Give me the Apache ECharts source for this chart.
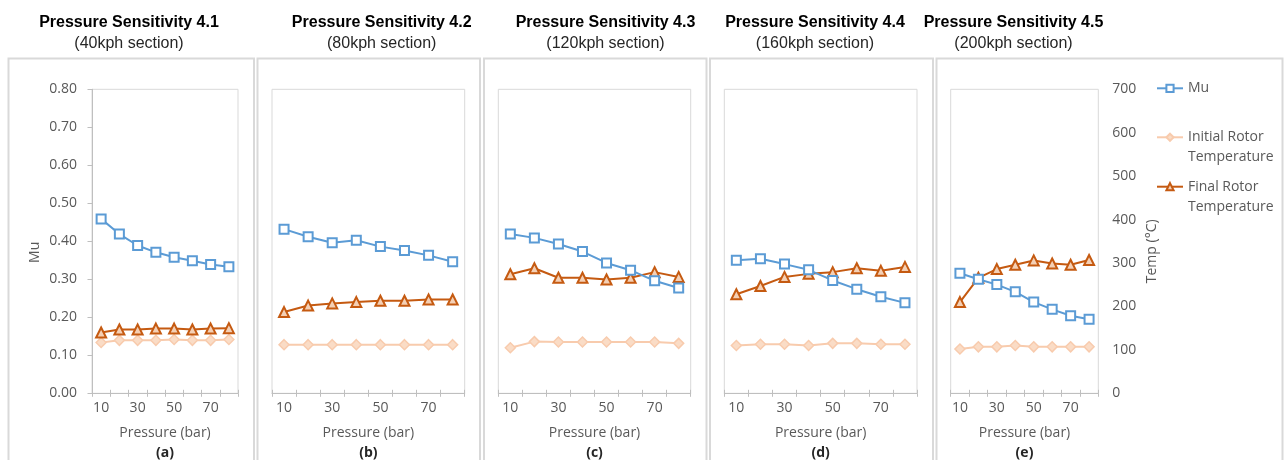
<!DOCTYPE html>
<html><head><meta charset="utf-8">
<script src="https://cdn.jsdelivr.net/npm/echarts@6/dist/echarts.min.js"></script>
<style>html,body{margin:0;padding:0;background:#fff}#c{width:1288px;height:460px}</style>
</head><body><div id="c"></div>
<script>
const categories = ['10','20','30','40','50','60','70','80'];
const panelTitles = ['Pressure Sensitivity 4.1','Pressure Sensitivity 4.2','Pressure Sensitivity 4.3','Pressure Sensitivity 4.4','Pressure Sensitivity 4.5'];
const panelSubtitles = ['(40kph section)','(80kph section)','(120kph section)','(160kph section)','(200kph section)'];
const panelLetters = ['(a)','(b)','(c)','(d)','(e)'];
const muTicks = [0, 0.8, 0.1];
const tempTicks = [0, 700, 100];

// Mu (left axis)
const muA = [0.459,0.419,0.389,0.371,0.358,0.349,0.339,0.333];
const muB = [0.432,0.412,0.396,0.403,0.386,0.376,0.363,0.346];
const muC = [0.419,0.409,0.393,0.373,0.343,0.324,0.296,0.277];
const muD = [0.350,0.354,0.340,0.325,0.297,0.274,0.254,0.238];
const muE = [0.316,0.300,0.286,0.267,0.240,0.221,0.204,0.195];
// Initial rotor temperature (°C, right axis)
const initA = [117,122,122,122,124,122,122,124];
const initB = [112,112,112,112,112,112,112,112];
const initC = [105,119,118,118,118,118,118,115];
const initD = [110,113,113,110,115,115,113,113];
const initE = [102,107,107,110,107,107,107,107];
// Final rotor temperature (°C, right axis)
const finalA = [140,147,147,149,149,147,149,150];
const finalB = [187,202,207,210,213,213,216,216];
const finalC = [274,288,266,266,262,266,279,268];
const finalD = [228,247,268,275,279,288,282,291];
const finalE = [210,266,286,296,306,299,296,307];

const muSets = [muA,muB,muC,muD,muE];
const initSets = [initA,initB,initC,initD,initE];
const finalSets = [finalA,finalB,finalC,finalD,finalE];

const FONT = '"Open Sans", sans-serif';
const GRAY = '#595959';
const gridLefts = [92, 272, 498.3, 724.3, 950.7];
const gridWidths = [146, 192.7, 192.4, 192.7, 147.6];
const titleCenters = [129, 381.7, 605.5, 815, 1013.5];
const panelRects = [[8.5,245.5],[257.5,222.5],[484,222.5],[710,223],[936.5,346]];

const grid = [], xAxis = [], yAxis = [], series = [], title = [], graphic = [];
for (let i = 0; i < 5; i++) {
  grid.push({left: gridLefts[i], width: gridWidths[i], top: 89.3, height: 304,
    show: true, borderColor: '#d9d9d9', borderWidth: 1, backgroundColor: 'transparent',
    containLabel: false, outerBoundsMode: 'none'});
  graphic.push({type: 'rect', silent: true, z: -10,
    shape: {x: panelRects[i][0], y: 58.5, width: panelRects[i][1], height: 420},
    style: {fill: 'none', stroke: '#d9d9d9', lineWidth: 2}});
  title.push({text: panelTitles[i], subtext: panelSubtitles[i], left: titleCenters[i], textAlign: 'center',
    top: 15, padding: 0, itemGap: 5,
    textStyle: {fontFamily: '"Liberation Sans", Arial, sans-serif', fontSize: 16, fontWeight: 'bold', color: '#000'},
    subtextStyle: {fontFamily: '"Liberation Sans", Arial, sans-serif', fontSize: 16, color: '#262626'}});
  xAxis.push({type: 'category', gridIndex: i, data: categories, boundaryGap: true,
    name: '{n|Pressure (bar)}\n{b|' + panelLetters[i] + '}', nameLocation: 'middle', nameGap: 30,
    nameTextStyle: {rich: {
      n: {fontFamily: FONT, fontSize: 14, color: GRAY, lineHeight: 20},
      b: {fontFamily: FONT, fontSize: 14, fontWeight: 'bold', color: '#262626', lineHeight: 20}}},
    axisLine: {show: true, lineStyle: {color: '#bfbfbf', width: 1}},
    axisTick: {show: true, interval: 0, length: 3.5, lineStyle: {color: '#bfbfbf'}},
    axisLabel: {interval: 1, margin: 8, fontFamily: FONT, fontSize: 14, color: GRAY},
    splitLine: {show: false}});
}
for (let i = 0; i < 5; i++) {
  // overlay axis giving the inner half of the crossing tick marks
  xAxis.push({type: 'category', gridIndex: i, data: categories, position: 'bottom', boundaryGap: true,
    axisLine: {show: false}, axisLabel: {show: false}, splitLine: {show: false},
    axisTick: {show: true, inside: true, interval: 0, length: 3.5, lineStyle: {color: '#bfbfbf'}}});
}
for (let i = 0; i < 5; i++) {
  const show = i === 0;
  yAxis.push({type: 'value', gridIndex: i, position: 'left', min: muTicks[0], max: muTicks[1], interval: muTicks[2],
    name: show ? 'Mu' : '', nameLocation: 'middle', nameGap: 50, nameRotate: 90,
    nameTextStyle: {fontFamily: FONT, fontSize: 14, color: GRAY, padding: [0, 22, 0, 0]},
    axisLine: {show: show, lineStyle: {color: '#bfbfbf'}},
    axisTick: {show: show, length: 4.5, lineStyle: {color: '#bfbfbf'}},
    axisLabel: {show: show, margin: 15, fontFamily: FONT, fontSize: 14, color: GRAY, formatter: v => v.toFixed(2)},
    splitLine: {show: false}});
}
for (let i = 0; i < 5; i++) {
  const show = i === 4;
  yAxis.push({type: 'value', gridIndex: i, position: 'right', min: tempTicks[0], max: tempTicks[1], interval: tempTicks[2],
    name: show ? 'Temp (°C)' : '', nameLocation: 'middle', nameGap: 47, nameRotate: 90,
    nameTextStyle: {fontFamily: FONT, fontSize: 14, color: GRAY, padding: [0, 20, 0, 0]},
    axisLine: {show: false}, axisTick: {show: false},
    axisLabel: {show: show, margin: 14, fontFamily: FONT, fontSize: 14, color: GRAY},
    splitLine: {show: false}});
}
for (let i = 0; i < 5; i++) {
  series.push({name: 'Mu', type: 'line', xAxisIndex: i, yAxisIndex: i, data: muSets[i],
    symbol: 'rect', symbolSize: 9, showAllSymbol: true, z: 4,
    lineStyle: {color: '#5B9BD5', width: 2},
    itemStyle: {color: '#ffffff', borderColor: '#5B9BD5', borderWidth: 2}});
  series.push({name: 'Initial Rotor Temperature', type: 'line', xAxisIndex: i, yAxisIndex: 5 + i, data: initSets[i],
    symbol: 'diamond', symbolSize: 10, showAllSymbol: true, z: 2,
    lineStyle: {color: '#F8CBAD', width: 2},
    itemStyle: {color: '#FADCC6', borderColor: '#F8CBAD', borderWidth: 1.5}});
  series.push({name: 'Final Rotor Temperature', type: 'line', xAxisIndex: i, yAxisIndex: 5 + i, data: finalSets[i],
    symbol: 'triangle', symbolSize: 10, showAllSymbol: true, z: 3,
    lineStyle: {color: '#C55A11', width: 2},
    itemStyle: {color: '#F4D0B5', borderColor: '#C55A11', borderWidth: 2}});
}

const legendBase = {orient: 'vertical', left: 1156, itemWidth: 26, itemHeight: 9, padding: 0, itemGap: 0,
  textStyle: {fontFamily: FONT, fontSize: 14, color: GRAY, lineHeight: 20}};
const legend = [
  Object.assign({}, legendBase, {top: 78.3, data: ['Mu']}),
  Object.assign({}, legendBase, {top: 107.3, data: ['Initial Rotor Temperature'],
    formatter: () => '\nInitial Rotor\nTemperature'}),
  Object.assign({}, legendBase, {top: 156.7, data: ['Final Rotor Temperature'],
    formatter: () => '\nFinal Rotor\nTemperature'})
];

const chart = echarts.init(document.getElementById('c'), null, {renderer: 'canvas'});
chart.setOption({
  backgroundColor: '#fff', animation: false,
  title, legend, grid, xAxis, yAxis, series, graphic
});
</script></body></html>
